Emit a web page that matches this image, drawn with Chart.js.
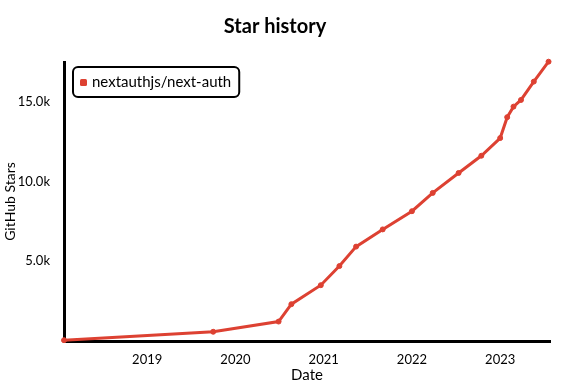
<!DOCTYPE html>
<html><head><meta charset="utf-8">
<script src="https://cdn.jsdelivr.net/npm/chart.js@4"></script>
<style>html,body{margin:0;padding:0;background:#fff}#wrap{width:571px;height:385px}</style>
</head><body><div id="wrap"><canvas id="c" width="571" height="385"></canvas></div>
<script>
const repoName = "nextauthjs/next-auth";
const dates = ["2018-01-22","2019-10-01","2020-06-28","2020-08-20","2020-12-20","2021-03-07","2021-05-15","2021-09-02","2022-01-01","2022-03-28","2022-07-13","2022-10-15","2023-01-01","2023-01-30","2023-02-25","2023-03-28","2023-05-20","2023-07-20"];
const stars = [50,580,1220,2310,3500,4700,5920,7000,8140,9290,10540,11620,12730,14040,14700,15120,16270,17520];
const xTickYears = [2019,2020,2021,2022,2023];
const yTickValues = [5000,10000,15000];
const lineColor = "#dd4132";
const FONT = "Lato";

function toYear(s){const d=new Date(s+"T00:00:00Z");const y=d.getUTCFullYear();const a=Date.UTC(y,0,1),b=Date.UTC(y+1,0,1);return y+(d-a)/(b-a);}
const points = dates.map((d,i)=>({x:toYear(d),y:stars[i]}));

const legendPlugin = {
  id:'customLegend',
  afterDraw(chart){
    const ctx=chart.ctx;
    const ds=chart.data.datasets[0];
    ctx.save();
    ctx.font = "15px "+FONT;
    const tw = ctx.measureText(ds.label).width;
    const x=73,y=67,h=30,w=tw+27;
    ctx.lineWidth=2;ctx.strokeStyle="#000";ctx.fillStyle="#fff";
    ctx.beginPath();ctx.roundRect(x,y,w,h,5);ctx.fill();ctx.stroke();
    ctx.fillStyle=ds.borderColor;
    ctx.beginPath();ctx.roundRect(x+7,y+12,7,7,1.5);ctx.fill();
    ctx.fillStyle="#000";ctx.textBaseline="middle";ctx.textAlign="left";
    ctx.fillText(ds.label,x+19,y+15);
    ctx.restore();
  }
};

new Chart(document.getElementById('c'),{
  type:'line',
  data:{datasets:[{label:repoName,data:points,borderColor:lineColor,backgroundColor:lineColor,borderWidth:3,pointRadius:2.5,pointBorderWidth:1,tension:0,clip:false}]},
  options:{
    responsive:false,animation:false,
    layout:{padding:{top:0,right:21,bottom:0,left:0}},
    plugins:{
      legend:{display:false},tooltip:{enabled:false},
      title:{display:true,text:"Star history",color:"#000",font:{family:FONT,size:20,weight:'bold'},padding:{top:15,bottom:23}}
    },
    scales:{
      x:{type:'linear',min:toYear("2018-01-22"),max:toYear("2023-07-26"),
        grid:{display:false},border:{display:true,color:"#000",width:3},
        afterBuildTicks(s){s.ticks=xTickYears.map(v=>({value:v}));},
        afterFit(s){s.height=44;},
        ticks:{color:"#000",font:{family:FONT,size:13},padding:3,maxRotation:0,callback:v=>String(v)},
        title:{display:true,text:"Date",color:"#000",font:{family:FONT,size:15},padding:{top:0,bottom:1}}
      },
      y:{min:0,max:17500,
        grid:{display:false},border:{display:true,color:"#000",width:3},
        afterBuildTicks(s){s.ticks=yTickValues.map(v=>({value:v}));},
        afterFit(s){s.width=64;},
        ticks:{color:"#000",font:{family:FONT,size:13},padding:6,callback:v=>(v/1000).toFixed(1)+"k"},
        title:{display:true,text:"GitHub Stars",color:"#000",font:{family:FONT,size:14},padding:{top:2,bottom:0}}
      }
    }
  },
  plugins:[legendPlugin]
});
</script></body></html>
